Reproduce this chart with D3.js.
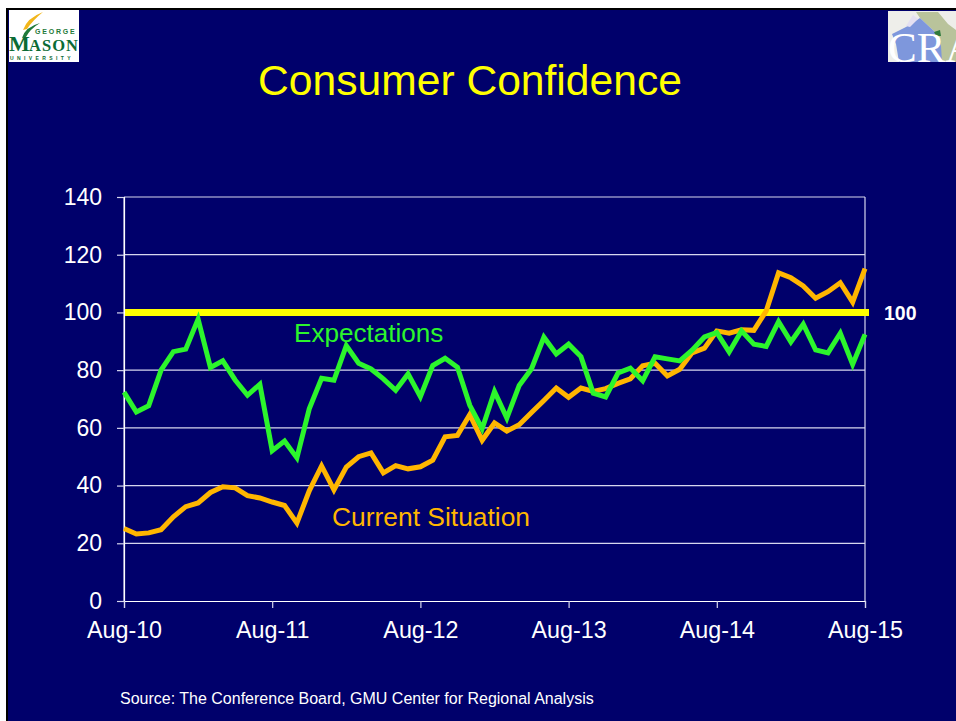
<!DOCTYPE html>
<html><head><meta charset="utf-8">
<script src="https://cdnjs.cloudflare.com/ajax/libs/d3/7.8.5/d3.min.js"></script>
<style>html,body{margin:0;padding:0;background:#fff;overflow:hidden}svg{display:block;font-family:"Liberation Sans",Arial,sans-serif}</style>
</head><body><svg id="c" width="956" height="721"></svg>
<script>
const expectations=[72.4,65.5,67.7,80,86.4,87.3,97.7,80.9,83.2,76.6,71.3,75.1,52.1,55.4,49.6,66.6,77.2,76.5,88.5,82.4,80.4,77,73,78.7,70.8,81.6,84.1,81,67.8,59.7,72.6,63.4,74.7,80.5,91.4,85.6,89,84.7,72,70.7,79,80.7,76.3,84.6,83.9,83.2,86.9,91.5,93,86.3,93.6,89,88.2,96.8,89.8,95.9,87,86,92.8,82,92.4];
const currentSituation=[25.1,23.2,23.6,24.7,29.2,32.7,34,37.6,39.6,39.2,36.5,35.7,34.3,33.1,27,38.2,46.8,38.5,46.4,50,51.3,44.4,46.9,45.8,46.5,48.8,56.9,57.4,64.6,55.7,61.7,58.9,61.1,65.3,69.5,73.8,70.6,73.8,72.6,73.6,75.4,77,81.5,82.4,78,80.3,86,87.6,93.6,92.8,94,93.8,100.5,113.7,112,109.2,104.9,107.2,110.3,103.6,115.2];
const yTicks=[0,20,40,60,80,100,120,140];
const xTickIndex=[0,12,24,36,48,60];
const xTickLabels=["Aug-10","Aug-11","Aug-12","Aug-13","Aug-14","Aug-15"];
const refValue=100;

const svg=d3.select("#c");
const bg="#00006b";
svg.append("rect").attr("x",7).attr("y",9).attr("width",949).attr("height",712).attr("fill",bg);
svg.append("path").attr("d","M7 721V9H956").attr("fill","none").attr("stroke","#000").attr("stroke-width",2);

const x=d3.scaleLinear().domain([0,60]).range([124,865]);
const y=d3.scaleLinear().domain([0,140]).range([601,197]);
const grid="#d6d6ee";

svg.append("g").selectAll("line").data(yTicks.slice(1)).join("line")
 .attr("x1",x(0)).attr("x2",x(60)).attr("y1",d=>y(d)).attr("y2",d=>y(d))
 .attr("stroke",grid).attr("stroke-width",1.2);
svg.append("line").attr("x1",x(0)).attr("x2",x(0)).attr("y1",y(140)).attr("y2",y(0)).attr("stroke",grid).attr("stroke-width",1.2);
svg.append("line").attr("x1",x(60)).attr("x2",x(60)).attr("y1",y(140)).attr("y2",y(0)).attr("stroke",grid).attr("stroke-width",1.2);

const yAxis=d3.axisLeft(y).tickValues(yTicks).tickSize(7).tickPadding(15);
const gy=svg.append("g").attr("transform",`translate(${x(0)},0)`).call(yAxis);
const xAxis=d3.axisBottom(x).tickValues(xTickIndex).tickSize(7).tickPadding(13).tickFormat((d,i)=>xTickLabels[i]);
const gx=svg.append("g").attr("transform",`translate(0,${y(0)})`).call(xAxis);
[gy,gx].forEach(g=>{g.select(".domain").attr("stroke","#fff").attr("stroke-width",1.2);
 g.selectAll("line").attr("stroke",grid).attr("stroke-width",1.2);
 g.selectAll("text").attr("fill","#fff").attr("font-size",23).attr("font-family","Liberation Sans");});
gx.selectAll("text").attr("font-size",23.3);

const line=d3.line().x((d,i)=>x(i)).y(d=>y(d));
svg.append("line").attr("x1",x(0)+1).attr("x2",869).attr("y1",y(refValue)).attr("y2",y(refValue)).attr("stroke","#ffff00").attr("stroke-width",7);
svg.append("path").attr("d",line(currentSituation)).attr("fill","none").attr("stroke","#ffb600").attr("stroke-width",5).attr("stroke-linejoin","miter");
svg.append("path").attr("d",line(expectations)).attr("fill","none").attr("stroke","#2cf52c").attr("stroke-width",5).attr("stroke-linejoin","miter");

const t=(s,xp,yp,size,fill,anchor,weight)=>svg.append("text").text(s).attr("x",xp).attr("y",yp).attr("font-size",size).attr("fill",fill).attr("text-anchor",anchor||"start").attr("font-weight",weight||"normal");
t("Consumer Confidence",470,95,42.6,"#ffff00","middle");
t("Expectations",294,342,26.1,"#2cf52c");
t("Current Situation",332,526,26.4,"#ffb600");
t("100",884,320,19.5,"#fff","start","bold");
t("Source: The Conference Board, GMU Center for Regional Analysis",120,704,16,"#fff");

// George Mason logo
const L=svg.append("g");
L.append("rect").attr("x",9).attr("y",10).attr("width",70).attr("height",52).attr("fill","#fff");
L.append("path").attr("d","M23 30Q27 18 43 12Q33 20 27 29Z").attr("fill","#f2b61b");
L.append("path").attr("d","M22 38Q25 27 40 23Q30 29 26 37Z").attr("fill","#1f7a3a");
t("GEORGE",35,34,7,"#1f7a3a").attr("font-weight","bold").attr("letter-spacing",1.8);
t("M",9,51,22,"#0b6b35").attr("font-family","Liberation Serif").attr("font-weight","bold");
t("ASON",29,51,16.5,"#0b6b35").attr("font-family","Liberation Serif").attr("font-weight","bold").attr("textLength",49);
t("UNIVERSITY",10,60,5,"#0b6b35").attr("font-weight","bold").attr("letter-spacing",3.4);

// CRA logo
const C=svg.append("g");
const clip=svg.append("clipPath").attr("id","cr");
clip.append("rect").attr("x",888).attr("y",11).attr("width",68).attr("height",51);
C.attr("clip-path","url(#cr)");
C.append("rect").attr("x",888).attr("y",11).attr("width",68).attr("height",51).attr("fill","#eeeeea");
C.append("path").attr("d","M916 12L938 12L948 24L956 30V62H938L936 33L920 18Z").attr("fill","#b9c39b");
C.append("path").attr("d","M892 34L906 27L920 18L936 33L941 46L942 62H899L896 44Z").attr("fill","#7e97dc");
C.append("path").attr("d","M906 26L913 15L918 19L910 27Z").attr("fill","#e4e0f2");
C.append("path").attr("d","M934 32L940 30L941 36L936 36Z").attr("fill","#2e7a3c");
const cra=C.append("text").text("CRA").attr("x",888).attr("y",62).attr("font-size",43).attr("fill","#fff").attr("font-family","Liberation Serif");
</script></body></html>
